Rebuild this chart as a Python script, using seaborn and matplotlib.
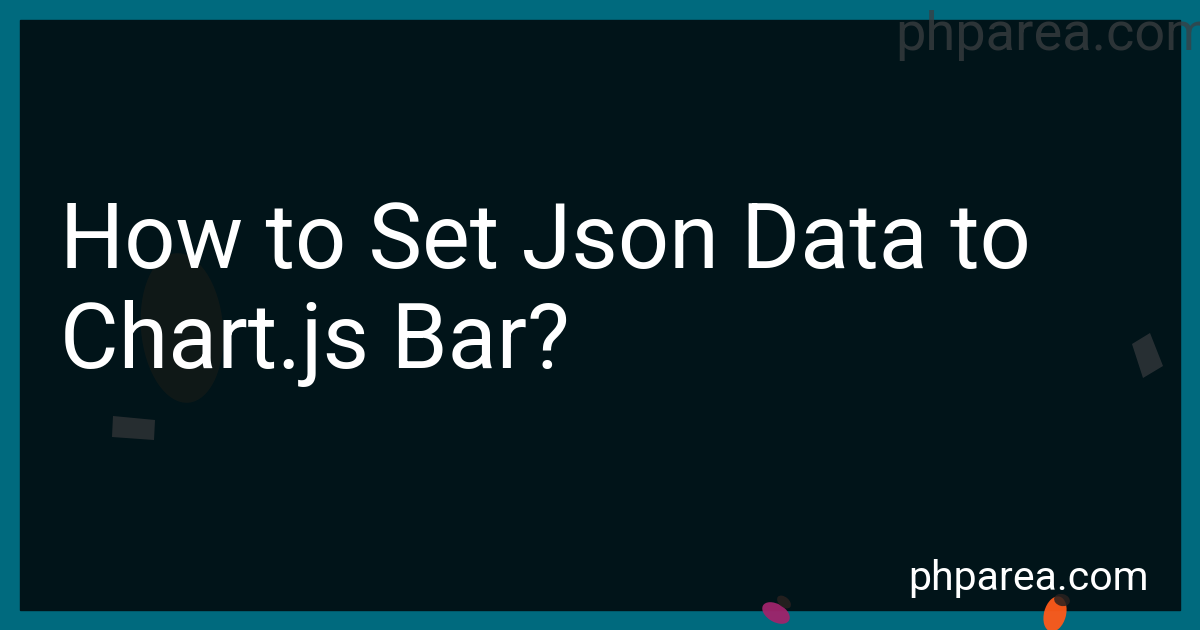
import matplotlib
matplotlib.use("Agg")
import matplotlib.pyplot as plt
import seaborn as sns
from matplotlib.patches import Rectangle, Ellipse, Polygon

# -------------------------------------------------------
# CONTENT
# -------------------------------------------------------
title_lines = ["How to Set Json Data to", "Chart.js Bar?"]
title_baselines = [268, 368]
site_name = "phparea.com"

border_color = "#006a7e"
panel_color = "#011419"

# blurred decoration shapes: (cx, cy, w, h, angle, color, alpha)
blobs = [
    (182, 328, 82, 150, -5, "#2a2116", 0.35),
    (776, 613, 30, 18, 30, "#a0246c", 0.95),
    (1055, 614, 22, 36, 15, "#ff5a1a", 0.95),
]
dark_caps = [
    (784, 602, 16, 10, 40, "#2a2120", 0.85),
    (1062, 600, 16, 12, 15, "#2a2120", 0.85),
]
rect_bits = [
    [(113, 416), (155, 420), (154, 440), (112, 437)],
    [(1132, 344), (1150, 333), (1163, 366), (1143, 378)],
]
rect_colors = ["#2b3033", "#2c3337"]

# -------------------------------------------------------
# FIGURE
# -------------------------------------------------------
sns.set_theme(style="white")
plt.rcParams['font.family'] = ['Roboto', 'DejaVu Sans']

fig = plt.figure(figsize=(12, 6.3), dpi=100)
fig.patch.set_facecolor(border_color)
ax = fig.add_axes([0, 0, 1, 1])
ax.set_xlim(0, 1200)
ax.set_ylim(630, 0)
ax.axis('off')

ax.add_patch(Rectangle((20, 20), 1160, 590, color=panel_color, zorder=1))

for cx, cy, w, h, ang, col, a in blobs:
    ax.add_patch(Ellipse((cx, cy), w, h, angle=ang, color=col, alpha=a, zorder=2, lw=0))
for cx, cy, w, h, ang, col, a in dark_caps:
    ax.add_patch(Ellipse((cx, cy), w, h, angle=ang, color=col, alpha=a, zorder=2, lw=0))
for pts, col in zip(rect_bits, rect_colors):
    ax.add_patch(Polygon(pts, closed=True, color=col, alpha=0.9, zorder=2, lw=0))

# faint watermark top right (runs off the right edge, as in the original)
ax.text(895, 50, site_name, fontsize=39, color="#3b3f42", alpha=0.75,
        ha='left', va='baseline', zorder=3)

for line, y in zip(title_lines, title_baselines):
    ax.text(60, y, line, fontsize=64.8, color="white",
            ha='left', va='baseline', zorder=4)

ax.text(1149, 590, site_name, fontsize=29.5, color="white",
        ha='right', va='baseline', zorder=4)

plt.savefig("out.png", dpi=100, facecolor=fig.get_facecolor())
